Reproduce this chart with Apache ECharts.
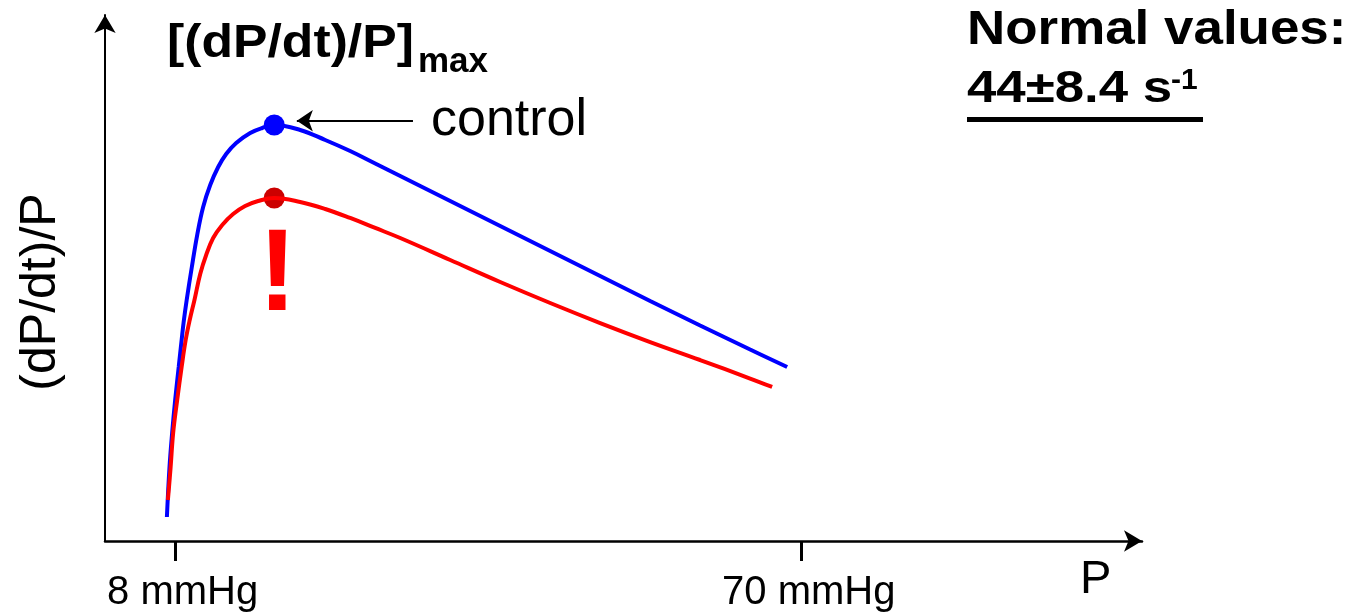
<!DOCTYPE html>
<html>
<head>
<meta charset="utf-8">
<script src="https://cdn.jsdelivr.net/npm/echarts@6/dist/echarts.min.js"></script>
<style>
html,body{margin:0;padding:0;background:#fff;}
#chart{width:1348px;height:616px;}
</style>
</head>
<body>
<div id="chart"></div>
<script>
// ---- data (P in mmHg, (dP/dt)/P in arbitrary units) ----
const controlP = [7.13, 7.39, 7.65, 7.95, 8.30, 8.59, 8.79, 9.09, 9.60, 10.13, 10.72, 11.42, 12.21, 13.00, 13.99, 15.38, 16.57, 17.76, 20.33, 22.81, 25.28, 27.76, 30.24, 35.19, 40.14, 45.09, 50.04, 54.99, 59.94, 64.89, 68.56];
const controlV = [4.56, 14.07, 20.53, 26.81, 33.08, 38.21, 41.63, 45.82, 52.09, 58.17, 63.50, 67.68, 71.10, 73.57, 75.67, 77.57, 78.52, 79.09, 78.14, 76.24, 74.14, 71.77, 69.39, 64.64, 59.89, 55.13, 50.38, 45.63, 40.97, 36.41, 33.08];
const impairedP = [7.23, 7.50, 7.75, 8.15, 8.59, 8.99, 9.39, 9.86, 10.43, 11.02, 11.71, 12.61, 13.69, 14.88, 16.17, 17.76, 20.33, 22.81, 25.28, 27.76, 30.24, 35.19, 40.14, 45.09, 50.04, 54.99, 59.94, 64.89, 67.07];
const impairedV = [7.79, 14.07, 20.53, 26.81, 33.08, 38.21, 42.02, 45.82, 50.76, 54.37, 57.60, 60.08, 62.17, 63.69, 64.64, 65.21, 64.45, 63.12, 61.41, 59.51, 57.60, 53.42, 49.24, 45.25, 41.44, 37.83, 34.41, 30.89, 29.28];
const controlPeak = [17.76, 79.09];
const impairedPeak = [17.76, 65.21];
const xTickValues = [8, 70];
const xTickUnit = ' mmHg';
const arrowFrom = [31.5, 79.9];
const arrowTo = [20.0, 79.9];

const FONT = '"Liberation Sans", Arial, Helvetica, sans-serif';
const toPairs = (xs, ys) => xs.map((x, i) => [x, ys[i]]);

const chart = echarts.init(document.getElementById('chart'));
chart.setOption({
  animation: false,
  backgroundColor: '#ffffff',
  grid: { left: 105, right: 206, top: 15, bottom: 75, containLabel: false, outerBoundsMode: 'none' },
  xAxis: {
    type: 'value', min: 1, max: 103.7,
    axisLine: { show: true, onZero: false, symbol: ['none', 'arrow'], symbolSize: [16, 18], lineStyle: { color: '#000', width: 2.5 } },
    axisTick: { show: true, customValues: xTickValues, length: 20, lineStyle: { color: '#000', width: 3 } },
    axisLabel: { show: true, customValues: xTickValues, formatter: v => v + xTickUnit, fontSize: 40, fontFamily: FONT, color: '#000', margin: 32, padding: [0, 0, 0, 14] },
    splitLine: { show: false }
  },
  yAxis: {
    type: 'value', min: 0, max: 100,
    name: '(dP/dt)/P', nameLocation: 'middle', nameGap: 39, nameRotate: 90,
    nameTextStyle: { fontSize: 50, fontFamily: FONT, color: '#000', padding: [0, 28, 0, 0] },
    axisLine: { show: true, onZero: false, symbol: ['none', 'arrow'], symbolSize: [16, 18], lineStyle: { color: '#000', width: 2 } },
    axisTick: { show: false }, axisLabel: { show: false }, splitLine: { show: false }
  },
  series: [
    {
      type: 'line', name: 'control', data: toPairs(controlP, controlV), smooth: 0.4,
      showSymbol: false, lineStyle: { color: '#0000FF', width: 4 }, z: 3,
      markLine: {
        silent: true, symbol: ['none', 'arrow'], symbolSize: 16,
        lineStyle: { color: '#000', width: 2, type: 'solid' },
        label: { show: true, position: 'start', formatter: 'control', fontSize: 52, fontFamily: FONT, color: '#000', distance: 18 },
        data: [[{ coord: arrowFrom }, { coord: arrowTo }]]
      }
    },
    {
      type: 'line', name: 'impaired', data: toPairs(impairedP, impairedV), smooth: 0.4,
      showSymbol: false, lineStyle: { color: '#FF0000', width: 4 }, z: 3
    },
    { type: 'scatter', data: [controlPeak], symbolSize: 21, itemStyle: { color: '#0000FF', opacity: 1 }, z: 4 },
    { type: 'scatter', data: [impairedPeak], symbolSize: 21, itemStyle: { color: '#CC0000', opacity: 1 }, z: 2 }
  ],
  graphic: [
    { type: 'text', x: 167, y: 21, scaleX: 1.1, style: { text: '[(dP/dt)/P]', fontSize: 47, fontWeight: 'bold', fontFamily: FONT, fill: '#000', verticalAlign: 'top' } },
    { type: 'text', x: 418, y: 45, style: { text: 'max', fontSize: 35, fontWeight: 'bold', fontFamily: FONT, fill: '#000', verticalAlign: 'top' } },
    { type: 'text', x: 277.5, y: 219, style: { text: '!', fontSize: 117, fontWeight: 'bold', fontFamily: FONT, fill: '#FF0000', align: 'center', verticalAlign: 'top' } },
    { type: 'text', x: 1080, y: 557, style: { text: 'P', fontSize: 47, fontFamily: FONT, fill: '#000', verticalAlign: 'top' } },
    { type: 'text', x: 967, y: 6, scaleX: 1.08, style: { text: 'Normal values:', fontSize: 49, fontWeight: 'bold', fontFamily: FONT, fill: '#000', verticalAlign: 'top' } },
    { type: 'text', x: 967, y: 68, scaleX: 1.2, style: { text: '44±8.4 s', fontSize: 44, fontWeight: 'bold', fontFamily: FONT, fill: '#000', verticalAlign: 'top' } },
    { type: 'text', x: 1171, y: 66, style: { text: '-1', fontSize: 30, fontWeight: 'bold', fontFamily: FONT, fill: '#000', verticalAlign: 'top' } },
    { type: 'rect', shape: { x: 967, y: 117, width: 236, height: 5 }, style: { fill: '#000' } }
  ]
});
</script>
</body>
</html>
